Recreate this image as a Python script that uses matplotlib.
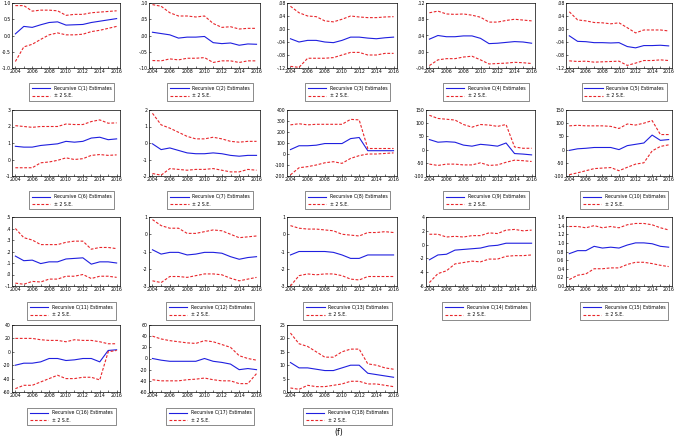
import matplotlib.pyplot as plt
import numpy as np

years = list(range(2004, 2017))
xticks = [2004, 2006, 2008, 2010, 2012, 2014, 2016]

# recursive estimates (est), upper (up) and lower (lo) +/- 2 S.E. bands
c01 = [0.05, 0.28, 0.25, 0.33, 0.40, 0.42, 0.32, 0.33, 0.34, 0.40, 0.44, 0.48, 0.52]
c01_up = [0.92, 0.92, 0.75, 0.78, 0.78, 0.76, 0.62, 0.65, 0.65, 0.70, 0.72, 0.74, 0.76]
c01_lo = [-0.80, -0.35, -0.27, -0.12, 0.02, 0.08, 0.02, 0.02, 0.04, 0.12, 0.16, 0.22, 0.28]

c02 = [0.010, 0.006, 0.002, -0.008, -0.005, -0.005, -0.003, -0.022, -0.025, -0.023, -0.030, -0.026, -0.027]
c02_up = [0.095, 0.090, 0.070, 0.060, 0.060, 0.057, 0.060, 0.037, 0.025, 0.027, 0.020, 0.022, 0.022]
c02_lo = [-0.077, -0.078, -0.072, -0.075, -0.070, -0.070, -0.068, -0.083, -0.078, -0.078, -0.083, -0.078, -0.078]

c03 = [-0.030, -0.040, -0.035, -0.035, -0.040, -0.042, -0.035, -0.025, -0.025, -0.028, -0.030, -0.027, -0.025]
c03_up = [0.070, 0.050, 0.040, 0.038, 0.025, 0.022, 0.030, 0.040, 0.037, 0.035, 0.035, 0.037, 0.038]
c03_lo = [-0.115, -0.118, -0.090, -0.090, -0.090, -0.088, -0.080, -0.072, -0.072, -0.080, -0.080, -0.075, -0.075]

c04 = [0.031, 0.040, 0.037, 0.037, 0.039, 0.039, 0.033, 0.020, 0.021, 0.023, 0.025, 0.024, 0.021]
c04_up = [0.096, 0.100, 0.093, 0.092, 0.093, 0.090, 0.085, 0.073, 0.073, 0.077, 0.080, 0.078, 0.076]
c04_lo = [-0.034, -0.020, -0.017, -0.017, -0.013, -0.011, -0.020, -0.030, -0.029, -0.028, -0.026, -0.027, -0.029]

c05 = [-0.021, -0.038, -0.039, -0.042, -0.042, -0.043, -0.042, -0.054, -0.058, -0.051, -0.051, -0.050, -0.052]
c05_up = [0.053, 0.028, 0.025, 0.020, 0.019, 0.016, 0.019, 0.004, -0.012, -0.003, -0.003, -0.003, -0.006]
c05_lo = [-0.098, -0.100, -0.099, -0.102, -0.101, -0.100, -0.099, -0.112, -0.105, -0.097, -0.097, -0.095, -0.097]

c06 = [0.80, 0.75, 0.75, 0.85, 0.90, 0.95, 1.10, 1.05, 1.10, 1.30, 1.35, 1.20, 1.25]
c06_up = [2.05, 2.00, 1.95, 2.00, 2.00, 2.00, 2.15, 2.12, 2.12, 2.30, 2.40, 2.20, 2.22]
c06_lo = [-0.50, -0.50, -0.50, -0.20, -0.15, -0.05, 0.10, 0.00, 0.05, 0.25, 0.30, 0.25, 0.28]

c07 = [-0.05, -0.40, -0.30, -0.45, -0.60, -0.65, -0.65, -0.60, -0.65, -0.75, -0.80, -0.75, -0.75]
c07_up = [1.80, 1.10, 0.90, 0.65, 0.40, 0.25, 0.25, 0.35, 0.25, 0.10, 0.05, 0.10, 0.10]
c07_lo = [-1.85, -1.95, -1.55, -1.60, -1.65, -1.60, -1.60, -1.55, -1.65, -1.75, -1.75, -1.60, -1.65]

c08 = [40, 75, 75, 80, 95, 95, 95, 140, 150, 30, 30, 30, 30]
c08_up = [265, 275, 265, 270, 270, 270, 270, 315, 310, 50, 50, 50, 50]
c08_lo = [-190, -125, -115, -100, -80, -70, -85, -40, -15, 0, 0, 5, 10]

c09 = [38, 28, 30, 28, 17, 13, 20, 17, 13, 25, -15, -17, -20]
c09_up = [130, 118, 115, 112, 95, 85, 95, 93, 88, 95, 10, 5, 5]
c09_lo = [-55, -60, -55, -55, -58, -58, -50, -60, -58, -48, -40, -42, -45]

c10 = [-3, 3, 5, 8, 8, 8, 0, 15, 20, 25, 55, 35, 38]
c10_up = [90, 92, 90, 90, 90, 88, 80, 97, 93, 100, 110, 57, 57]
c10_lo = [-95, -88, -80, -72, -70, -68, -80, -67, -55, -50, -5, 12, 18]

c11 = [0.16, 0.12, 0.125, 0.095, 0.11, 0.11, 0.135, 0.14, 0.145, 0.09, 0.11, 0.11, 0.10]
c11_up = [0.40, 0.32, 0.30, 0.26, 0.26, 0.26, 0.28, 0.29, 0.29, 0.22, 0.235, 0.235, 0.225]
c11_lo = [-0.075, -0.085, -0.06, -0.065, -0.04, -0.04, -0.015, -0.015, 0.0, -0.035, -0.015, -0.015, -0.025]

c12 = [-0.90, -1.15, -1.05, -1.05, -1.20, -1.15, -1.05, -1.05, -1.10, -1.30, -1.45, -1.35, -1.30]
c12_up = [0.85, 0.50, 0.35, 0.35, 0.05, 0.05, 0.15, 0.25, 0.20, 0.00, -0.20, -0.15, -0.10]
c12_lo = [-2.70, -2.80, -2.45, -2.45, -2.50, -2.40, -2.30, -2.30, -2.35, -2.55, -2.70, -2.60, -2.50]

c13 = [-1.20, -1.00, -1.00, -1.00, -1.00, -1.05, -1.20, -1.40, -1.40, -1.20, -1.20, -1.20, -1.20]
c13_up = [0.50, 0.35, 0.30, 0.30, 0.25, 0.20, 0.00, -0.05, -0.10, 0.10, 0.10, 0.15, 0.10]
c13_lo = [-3.00, -2.40, -2.30, -2.35, -2.30, -2.30, -2.40, -2.60, -2.65, -2.45, -2.45, -2.45, -2.45]

c14 = [-2.2, -1.5, -1.4, -0.8, -0.7, -0.6, -0.5, -0.2, -0.1, 0.2, 0.2, 0.2, 0.2]
c14_up = [1.5, 1.5, 1.1, 1.2, 1.1, 1.3, 1.3, 1.7, 1.6, 2.1, 2.2, 2.0, 2.1]
c14_lo = [-5.5, -4.2, -3.8, -2.8, -2.6, -2.4, -2.5, -2.1, -2.1, -1.7, -1.6, -1.6, -1.5]

c15 = [0.75, 0.82, 0.82, 0.92, 0.88, 0.90, 0.88, 0.95, 1.00, 1.00, 0.98, 0.92, 0.90]
c15_up = [1.38, 1.38, 1.35, 1.40, 1.35, 1.38, 1.35, 1.42, 1.45, 1.45, 1.42, 1.35, 1.30]
c15_lo = [0.15, 0.25, 0.28, 0.40, 0.40, 0.42, 0.42, 0.50, 0.55, 0.55, 0.52, 0.48, 0.45]

c16 = [-20, -17, -17, -15, -10, -10, -13, -12, -10, -10, -15, 2, 3]
c16_up = [20, 20, 20, 18, 17, 17, 15, 18, 17, 17, 15, 12, 12]
c16_lo = [-55, -50, -50, -45, -40, -35, -40, -40, -38, -38, -42, 0, 2]

c17 = [0, -3, -5, -5, -5, -5, 0, -5, -7, -10, -20, -18, -20]
c17_up = [40, 35, 32, 30, 28, 27, 32, 30, 25, 20, 5, 0, -3]
c17_lo = [-38, -40, -40, -40, -38, -37, -35, -38, -40, -40, -45, -45, -27]

c18 = [11, 9, 9, 8.5, 8, 8, 9, 10, 10, 7, 6.5, 6, 5.5]
c18_up = [22, 18, 17, 15, 13, 13, 15, 16, 16, 10.5, 10, 9, 8.5]
c18_lo = [1.5, 1, 2.5, 2, 2, 2.5, 3, 4, 4, 3, 3, 2.5, 2]

est = [c01, c02, c03, c04, c05, c06, c07, c08, c09, c10, c11, c12, c13, c14, c15, c16, c17, c18]
ups = [c01_up, c02_up, c03_up, c04_up, c05_up, c06_up, c07_up, c08_up, c09_up, c10_up,
       c11_up, c12_up, c13_up, c14_up, c15_up, c16_up, c17_up, c18_up]
los = [c01_lo, c02_lo, c03_lo, c04_lo, c05_lo, c06_lo, c07_lo, c08_lo, c09_lo, c10_lo,
       c11_lo, c12_lo, c13_lo, c14_lo, c15_lo, c16_lo, c17_lo, c18_lo]

# y ticks and their labels per panel
yticks = [
    ([-1.0, -0.5, 0.0, 0.5, 1.0], ['-1.0', '-0.5', '0.0', '0.5', '1.0']),
    ([-0.10, -0.05, 0.0, 0.05, 0.10], ['-.10', '-.05', '.00', '.05', '.10']),
    ([-0.12, -0.08, -0.04, 0.0, 0.04, 0.08], ['-.12', '-.08', '-.04', '.00', '.04', '.08']),
    ([-0.04, 0.0, 0.04, 0.08, 0.12], ['-.04', '.00', '.04', '.08', '.12']),
    ([-0.12, -0.08, -0.04, 0.0, 0.04, 0.08], ['-.12', '-.08', '-.04', '.00', '.04', '.08']),
    ([-1, 0, 1, 2, 3], ['-1', '0', '1', '2', '3']),
    ([-2, -1, 0, 1, 2], ['-2', '-1', '0', '1', '2']),
    ([-200, -100, 0, 100, 200, 300, 400], ['-200', '-100', '0', '100', '200', '300', '400']),
    ([-100, -50, 0, 50, 100, 150], ['-100', '-50', '0', '50', '100', '150']),
    ([-100, -50, 0, 50, 100, 150], ['-100', '-50', '0', '50', '100', '150']),
    ([-0.1, 0.0, 0.1, 0.2, 0.3, 0.4, 0.5], ['-.1', '.0', '.1', '.2', '.3', '.4', '.5']),
    ([-3, -2, -1, 0, 1], ['-3', '-2', '-1', '0', '1']),
    ([-3, -2, -1, 0, 1], ['-3', '-2', '-1', '0', '1']),
    ([-6, -4, -2, 0, 2, 4], ['-6', '-4', '-2', '0', '2', '4']),
    ([0.0, 0.2, 0.4, 0.6, 0.8, 1.0, 1.2, 1.4, 1.6], ['0.0', '0.2', '0.4', '0.6', '0.8', '1.0', '1.2', '1.4', '1.6']),
    ([-60, -40, -20, 0, 20, 40], ['-60', '-40', '-20', '0', '20', '40']),
    ([-60, -40, -20, 0, 20, 40, 60], ['-60', '-40', '-20', '0', '20', '40', '60']),
    ([0, 5, 10, 15, 20, 25], ['0', '5', '10', '15', '20', '25']),
]

W, H = 677, 443
fig = plt.figure(figsize=(W / 100, H / 100), dpi=100)

lefts = [12, 149, 287, 426, 566]
rights = [120, 260, 397, 535, 672]
tops = [3, 110, 217, 325]
bottoms = [68, 176, 286, 392]

blue = '#1f1fdf'
red = '#e8262b'

for i in range(18):
    r, c = divmod(i, 5)
    l, rr, t, b = lefts[c], rights[c], tops[r], bottoms[r]
    ax = fig.add_axes([l / W, 1 - b / H, (rr - l) / W, (b - t) / H])
    ax.plot(years, est[i], color=blue, lw=0.8, label='Recursive C(%d) Estimates' % (i + 1))
    ax.plot(years, ups[i], color=red, lw=0.8, ls=(0, (2.5, 1.5)), label='± 2 S.E.')
    ax.plot(years, los[i], color=red, lw=0.8, ls=(0, (2.5, 1.5)))
    tv, tl = yticks[i]
    ax.set_yticks(tv)
    ax.set_yticklabels(tl)
    ax.set_ylim(tv[0], tv[-1])
    ax.set_xlim(2003.6, 2016.4)
    ax.set_xticks(xticks)
    ax.set_xticks(years, minor=True)
    ax.tick_params(labelsize=3.3, length=1.5, width=0.4, pad=1, direction='in')
    ax.tick_params(which='minor', length=1.5, width=0.4, direction='in')
    for s in ax.spines.values():
        s.set_linewidth(0.5)
    ax.legend(loc='upper center', bbox_to_anchor=(0.55, -0.2), fontsize=3.3, frameon=True,
              fancybox=False, edgecolor='black', handlelength=4, borderpad=0.6,
              labelspacing=0.5).get_frame().set_linewidth(0.4)

fig.text(0.5, 1 - 433 / H, '(f)', ha='center', va='center', fontsize=5.5)
fig.savefig('out.png', dpi=100)
